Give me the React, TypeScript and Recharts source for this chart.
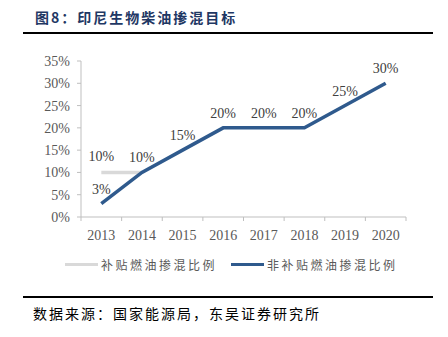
import React from "react";
import { LineChart, Line, XAxis, YAxis, LabelList } from "recharts";

const years = [2013, 2014, 2015, 2016, 2017, 2018, 2019, 2020];
const subsidized = [10, 10, null, null, null, null, null, null];
const nonSubsidized = [3, 10, 15, 20, 20, 20, 25, 30];
const yTicks = [0, 5, 10, 15, 20, 25, 30, 35];
const boundaries = [2012.5, 2013.5, 2014.5, 2015.5, 2016.5, 2017.5, 2018.5, 2019.5, 2020.5];

const GRAY = "#D9D9D9";
const BLUE = "#2F5A8D";
const AXIS = "#BFBFBF";
const SERIF = "'Liberation Serif', 'Times New Roman', serif";
const CJK = "'Noto Sans CJK SC', sans-serif";

const data = years.map((y, i) => ({
  year: y,
  sub: subsidized[i],
  nonSub: nonSubsidized[i],
}));

const xTicks = [...boundaries, ...years].sort((a, b) => a - b);

function XTick(props: any) {
  const { x, y, payload } = props;
  const v = payload.value;
  if (!Number.isInteger(v)) {
    return <line x1={x} x2={x} y1={y - 4} y2={y} stroke={AXIS} strokeWidth={1} />;
  }
  return (
    <text x={x} y={y + 19} textAnchor="middle" fontFamily={SERIF} fontSize={14} fill="#595959">
      {v}
    </text>
  );
}

function FirstLabel(props: any) {
  const { x, y, value, index } = props;
  if (index !== 0) return null;
  return (
    <text x={x} y={y - 11} textAnchor="middle" fontFamily={SERIF} fontSize={14} fill="#404040">
      {value}%
    </text>
  );
}

function LegendItem({ color, label }: { color: string; label: string }) {
  return (
    <div style={{ display: "flex", alignItems: "center" }}>
      <div style={{ width: 33, height: 3, background: color, marginRight: 3 }} />
      <span style={{ fontFamily: CJK, fontSize: 12, color: "#595959", letterSpacing: 2.5 }}>{label}</span>
    </div>
  );
}

export default function App() {
  return (
    <div style={{ position: "absolute", left: 0, top: 0, width: 448, height: 337, background: "#fff" }}>
      <div
        style={{
          position: "absolute",
          left: 35,
          top: 7,
          fontFamily: CJK,
          fontWeight: 700,
          fontSize: 14,
          letterSpacing: 2,
          color: "#1F3864",
          whiteSpace: "nowrap",
        }}
      >
        图8：印尼生物柴油掺混目标
      </div>
      <div style={{ position: "absolute", left: 23, top: 32, width: 410, height: 2, background: "#000" }} />

      <LineChart
        width={448}
        height={337}
        data={data}
        margin={{ top: 61, right: 42, left: 41, bottom: 90 }}
        style={{ position: "absolute", left: 0, top: 0 }}
      >
        <XAxis
          dataKey="year"
          type="number"
          domain={[2012.5, 2020.5]}
          ticks={xTicks}
          interval={0}
          tickLine={false}
          tickSize={4}
          tickMargin={0}
          tick={<XTick />}
          axisLine={{ stroke: AXIS }}
          height={30}
        />
        <YAxis
          domain={[0, 35]}
          ticks={yTicks}
          interval={0}
          width={40}
          tickSize={4}
          tickMargin={7}
          tickLine={{ stroke: AXIS }}
          axisLine={{ stroke: AXIS }}
          tickFormatter={(v: number) => `${v}%`}
          tick={{ fontFamily: SERIF, fontSize: 14, fill: "#595959" }}
        />
        <Line
          dataKey="sub"
          stroke={GRAY}
          strokeWidth={3.5}
          dot={false}
          isAnimationActive={false}
        >
          <LabelList dataKey="sub" content={<FirstLabel />} />
        </Line>
        <Line
          dataKey="nonSub"
          stroke={BLUE}
          strokeWidth={3.5}
          dot={false}
          isAnimationActive={false}
        >
          <LabelList
            dataKey="nonSub"
            position="top"
            offset={10}
            formatter={(v: any) => `${v}%`}
            style={{ fontFamily: SERIF, fontSize: 14, fill: "#404040" }}
          />
        </Line>
      </LineChart>

      <div style={{ position: "absolute", left: 65, top: 256, display: "flex", gap: 14 }}>
        <LegendItem color={GRAY} label="补贴燃油掺混比例" />
        <LegendItem color={BLUE} label="非补贴燃油掺混比例" />
      </div>

      <div style={{ position: "absolute", left: 23, top: 296, width: 410, height: 2, background: "#000" }} />
      <div
        style={{
          position: "absolute",
          left: 33,
          top: 303,
          fontFamily: CJK,
          fontSize: 14,
          letterSpacing: 2,
          color: "#000",
          whiteSpace: "nowrap",
        }}
      >
        数据来源：国家能源局，东吴证券研究所
      </div>
    </div>
  );
}
